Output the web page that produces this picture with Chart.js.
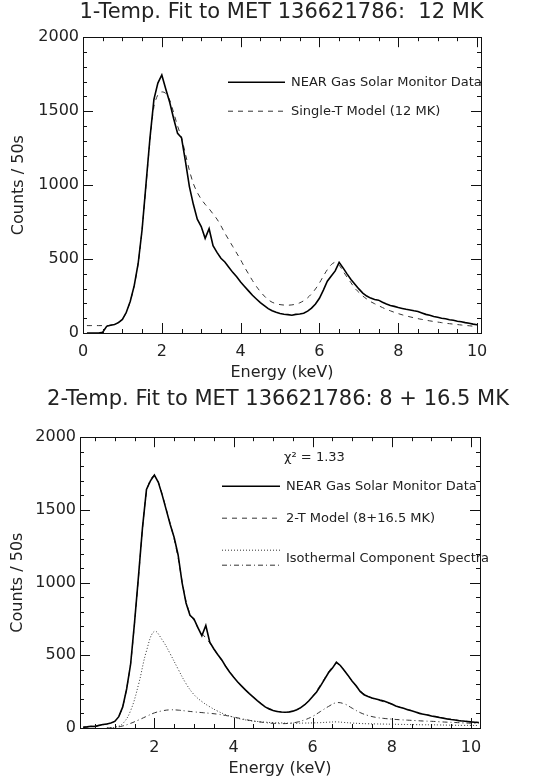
<!DOCTYPE html>
<html lang="en">
<head>
    <meta charset="UTF-8">
    <title>NEAR solar monitor spectrum fits</title>
    <script src="https://cdn.jsdelivr.net/npm/chart.js"></script>
    <style>
        body {
            margin: 0;
            background: #fff;
        }

        .panel {
            position: absolute;
            left: 0;
        }
    </style>
</head>
<body>
    <canvas id="topChart" class="panel" style="top:0" width="547" height="385"></canvas>
    <canvas id="bottomChart" class="panel" style="top:385px" width="547" height="393"></canvas>

    <script>
        // ---- data (keV, counts / 50 s) ----
        const energyTop = [
            0.1, 0.2, 0.3, 0.4, 0.5, 0.6, 0.7, 0.8, 0.9, 1.0,
            1.1, 1.2, 1.3, 1.4, 1.5, 1.6, 1.7, 1.8, 1.9, 2.0,
            2.1, 2.2, 2.3, 2.4, 2.5, 2.6, 2.7, 2.8, 2.9, 3.0,
            3.1, 3.2, 3.3, 3.4, 3.5, 3.6, 3.7, 3.8, 3.9, 4.0,
            4.1, 4.2, 4.3, 4.4, 4.5, 4.6, 4.7, 4.8, 4.9, 5.0,
            5.1, 5.2, 5.3, 5.4, 5.5, 5.6, 5.7, 5.8, 5.9, 6.0,
            6.1, 6.2, 6.3, 6.4, 6.5, 6.6, 6.7, 6.8, 6.9, 7.0,
            7.1, 7.2, 7.3, 7.4, 7.5, 7.6, 7.7, 7.8, 7.9, 8.0,
            8.1, 8.2, 8.3, 8.4, 8.5, 8.6, 8.7, 8.8, 8.9, 9.0,
            9.1, 9.2, 9.3, 9.4, 9.5, 9.6, 9.7, 9.8, 9.9, 10.0
        ];
        const dataTop = [
            0, 0, 0, 0, 5, 45, 52, 58, 70, 92,
            140, 215, 320, 470, 700, 1010, 1320, 1580, 1690, 1745,
            1650, 1560, 1450, 1350, 1320, 1160, 990, 870, 770, 720,
            640, 705, 590, 545, 505, 480, 445, 410, 380, 345,
            315, 285, 255, 230, 205, 185, 165, 150, 140, 132,
            127, 124, 120, 126, 129, 134, 148, 168, 196, 235,
            290, 350, 385, 420, 478, 440, 400, 362, 330, 298,
            270, 250, 236, 226, 222, 208, 196, 186, 180, 172,
            166, 160, 156, 150, 146, 136, 126, 120, 112, 106,
            100, 96, 90, 86, 80, 76, 70, 66, 60, 56
        ];
        const modelTop = [
            50, 50, 50, 50, 50, 50, 53, 60, 72, 94,
            140, 215, 320, 470, 700, 1000, 1300, 1530, 1610, 1630,
            1620, 1575, 1490, 1400, 1320, 1210, 1100, 1010, 950, 905,
            870, 840, 805, 770, 725, 675, 630, 585, 540, 495,
            445, 400, 355, 315, 280, 250, 225, 208, 198, 192,
            189, 188, 190, 195, 204, 218, 238, 265, 298, 338,
            385, 428, 462, 478, 458, 418, 378, 340, 302, 275,
            250, 230, 212, 198, 185, 172, 160, 150, 140, 131,
            123, 116, 109, 103, 97, 92, 87, 82, 78, 74,
            70, 66, 63, 60, 57, 54, 51, 49, 46, 44
        ];

        const energyBottom = [
            0.2, 0.3, 0.4, 0.5, 0.6, 0.7, 0.8, 0.9, 1.0,
            1.1, 1.2, 1.3, 1.4, 1.5, 1.6, 1.7, 1.8, 1.9, 2.0,
            2.1, 2.2, 2.3, 2.4, 2.5, 2.6, 2.7, 2.8, 2.9, 3.0,
            3.1, 3.2, 3.3, 3.4, 3.5, 3.6, 3.7, 3.8, 3.9, 4.0,
            4.1, 4.2, 4.3, 4.4, 4.5, 4.6, 4.7, 4.8, 4.9, 5.0,
            5.1, 5.2, 5.3, 5.4, 5.5, 5.6, 5.7, 5.8, 5.9, 6.0,
            6.1, 6.2, 6.3, 6.4, 6.5, 6.6, 6.7, 6.8, 6.9, 7.0,
            7.1, 7.2, 7.3, 7.4, 7.5, 7.6, 7.7, 7.8, 7.9, 8.0,
            8.1, 8.2, 8.3, 8.4, 8.5, 8.6, 8.7, 8.8, 8.9, 9.0,
            9.1, 9.2, 9.3, 9.4, 9.5, 9.6, 9.7, 9.8, 9.9, 10.0,
            10.1, 10.2
        ];
        const dataBottom = [
            5, 8, 12, 10, 18, 24, 28, 34, 45,
            78, 145, 270, 440, 730, 1050, 1380, 1640, 1700, 1740,
            1690, 1600, 1500, 1400, 1310, 1190, 1000, 860, 775, 750,
            690, 635, 705, 590, 545, 505, 470, 425, 385, 350,
            318, 290, 262, 236, 212, 188, 166, 145, 130, 120,
            114, 110, 108, 110, 116, 126, 140, 160, 186, 216,
            248, 290, 335, 380, 412, 452, 430, 396, 360, 322,
            290, 252, 228, 216, 206, 200, 192, 186, 176, 165,
            152, 142, 136, 126, 118, 110, 100, 95, 90, 82,
            78, 72, 68, 62, 58, 55, 50, 48, 45, 42,
            40, 38
        ];
        const model2T = [
            6, 8, 10, 12, 16, 22, 28, 35, 48,
            80, 148, 272, 445, 725, 1040, 1370, 1620, 1710, 1735,
            1690, 1605, 1505, 1405, 1300, 1170, 1010, 870, 785, 740,
            690, 650, 620, 585, 545, 505, 465, 425, 387, 352,
            320, 290, 262, 236, 212, 190, 168, 150, 135, 124,
            116, 111, 109, 110, 115, 125, 140, 160, 186, 218,
            255, 298, 340, 385, 420, 445, 428, 395, 358, 320,
            286, 256, 234, 218, 206, 196, 188, 180, 172, 163,
            153, 144, 136, 128, 120, 112, 104, 97, 91, 85,
            79, 74, 69, 64, 60, 56, 52, 49, 46, 43,
            40, 38
        ];

        const energyComp = [
            0.8, 1.0, 1.2, 1.4, 1.6, 1.8, 2.0, 2.2, 2.4, 2.6,
            2.8, 3.0, 3.2, 3.4, 3.6, 3.8, 4.0, 4.2, 4.4, 4.6,
            4.8, 5.0, 5.2, 5.4, 5.6, 5.8, 6.0, 6.2, 6.4, 6.6,
            6.8, 7.0, 7.2, 7.4, 7.6, 7.8, 8.0, 8.2, 8.4, 8.6,
            8.8, 9.0, 9.2, 9.4, 9.6, 9.8, 10.0, 10.2
        ];
        const comp8MK = [
            0, 5, 30, 120, 300, 530, 665, 605, 510, 405,
            305, 230, 182, 146, 116, 92, 74, 61, 51, 45,
            40, 37, 35, 33, 33, 34, 35, 37, 40, 42,
            38, 34, 31, 29, 28, 27, 26, 25, 24, 23,
            22, 22, 21, 20, 19, 18, 18, 17
        ];
        const comp16MK = [
            0, 4, 14, 32, 55, 80, 104, 118, 125, 123,
            117, 111, 106, 101, 95, 86, 76, 64, 53, 44,
            37, 32, 30, 32, 40, 56, 80, 114, 148, 174,
            166, 136, 106, 86, 73, 66, 61, 57, 54, 51,
            48, 46, 43, 40, 38, 35, 33, 31
        ];

        const countTicks = [0, 500, 1000, 1500, 2000];

        const pairs = (xs, ys) => xs.map((x, i) => ({ x: x, y: ys[i] }));

        Chart.defaults.font.family = "'DejaVu Sans', 'Liberation Sans', sans-serif";
        Chart.defaults.color = '#222';

        // IDL-style ticks pointing into the plot on all four sides
        const innerTicks = {
            id: 'innerTicks',
            afterDraw(chart, args, opts) {
                const { ctx, chartArea: a } = chart;
                const { x, y } = chart.scales;
                ctx.save();
                ctx.strokeStyle = '#111';
                ctx.lineWidth = 1;
                ctx.setLineDash([]);
                ctx.beginPath();
                const mark = (scale, step, len) => {
                    const first = Math.ceil(scale.min / step - 1e-6);
                    const last = Math.floor(scale.max / step + 1e-6);
                    for (let k = first; k <= last; k++) {
                        const p = Math.round(scale.getPixelForValue(k * step)) + 0.5;
                        if (scale.isHorizontal()) {
                            ctx.moveTo(p, a.bottom); ctx.lineTo(p, a.bottom - len);
                            ctx.moveTo(p, a.top); ctx.lineTo(p, a.top + len);
                        } else {
                            ctx.moveTo(a.left, p); ctx.lineTo(a.left + len, p);
                            ctx.moveTo(a.right, p); ctx.lineTo(a.right - len, p);
                        }
                    }
                };
                mark(x, opts.xMinor, 4);
                mark(x, opts.xMajor, 10);
                mark(y, opts.yMinor, 4);
                mark(y, opts.yMajor, 10);
                ctx.stroke();
                ctx.restore();
            }
        };

        // legend drawn inside the plot, samples use the dataset line styles
        const innerLegend = {
            id: 'innerLegend',
            afterDraw(chart, args, opts) {
                const { ctx, chartArea: a } = chart;
                ctx.save();
                ctx.font = opts.font;
                ctx.fillStyle = '#222';
                ctx.textBaseline = 'middle';
                opts.rows.forEach(r => {
                    (r.samples || []).forEach(s => {
                        const ds = chart.data.datasets[s.ds];
                        ctx.beginPath();
                        ctx.setLineDash(ds.borderDash || []);
                        ctx.lineWidth = ds.borderWidth;
                        ctx.strokeStyle = ds.borderColor;
                        ctx.moveTo(a.left + opts.x0, a.top + s.dy);
                        ctx.lineTo(a.left + opts.x1, a.top + s.dy);
                        ctx.stroke();
                    });
                    if (r.text) {
                        ctx.setLineDash([]);
                        ctx.fillText(r.text, a.left + (r.tx !== undefined ? r.tx : opts.tx), a.top + r.dy);
                    }
                });
                ctx.restore();
            }
        };

        function makeOptions(cfg) {
            const hidden = { display: false };
            return {
                responsive: false,
                devicePixelRatio: 1,
                animation: false,
                layout: { padding: { left: cfg.padLeft, right: 0, top: 0, bottom: 0 } },
                elements: { point: { radius: 0 } },
                plugins: {
                    legend: hidden,
                    tooltip: { enabled: false },
                    title: {
                        display: true,
                        text: cfg.title,
                        font: { size: 21, weight: 'normal' },
                        padding: { top: cfg.titleTop, bottom: cfg.titleBottom }
                    },
                    innerTicks: { xMajor: 2, xMinor: 0.5, yMajor: 500, yMinor: 100 },
                    innerLegend: cfg.legend
                },
                scales: {
                    x: {
                        type: 'linear',
                        position: 'bottom',
                        min: cfg.xMin,
                        max: cfg.xMax,
                        grid: { display: false, drawTicks: false },
                        border: { display: true, color: '#111', width: 1 },
                        ticks: {
                            stepSize: 2, includeBounds: false, padding: cfg.xTickPad,
                            font: { size: 16 }, callback: v => String(v)
                        },
                        title: { display: true, text: 'Energy (keV)', font: { size: 16 }, padding: { top: 0, bottom: cfg.xTitlePad } },
                        afterFit: s => { s.height = cfg.xHeight; }
                    },
                    x2: {
                        type: 'linear',
                        position: 'top',
                        min: cfg.xMin,
                        max: cfg.xMax,
                        grid: { display: false, drawTicks: false },
                        border: { display: true, color: '#111', width: 1 },
                        ticks: hidden,
                        afterFit: s => { s.height = 0; }
                    },
                    y: {
                        position: 'left',
                        min: 0,
                        max: 2000,
                        grid: { display: false, drawTicks: false },
                        border: { display: true, color: '#111', width: 1 },
                        afterBuildTicks: s => { s.ticks = countTicks.map(v => ({ value: v })); },
                        ticks: { padding: 4, font: { size: 16 }, callback: v => String(v) },
                        title: { display: true, text: 'Counts / 50s', font: { size: 16 }, padding: { top: cfg.yTitlePad, bottom: 0 } },
                        afterFit: s => { s.width = cfg.yWidth; }
                    },
                    y2: {
                        position: 'right',
                        min: 0,
                        max: 2000,
                        grid: { display: false, drawTicks: false },
                        border: { display: true, color: '#111', width: 1 },
                        ticks: hidden,
                        afterFit: s => { s.width = cfg.y2Width; }
                    }
                }
            };
        }

        new Chart(document.getElementById('topChart'), {
            type: 'line',
            data: {
                datasets: [{
                    label: 'NEAR Gas Solar Monitor Data',
                    data: pairs(energyTop, dataTop),
                    borderColor: '#000',
                    borderWidth: 1.6
                }, {
                    label: 'Single-T Model (12 MK)',
                    data: pairs(energyTop, modelTop),
                    borderColor: '#333',
                    borderWidth: 1,
                    borderDash: [5, 5],
                    tension: 0.3
                }]
            },
            options: makeOptions({
                title: '1-Temp. Fit to MET 136621786:  12 MK',
                padLeft: 16, titleTop: 0, titleBottom: 12,
                xMin: 0, xMax: 10.1, xHeight: 52, xTickPad: 9, xTitlePad: 3,
                yWidth: 67, y2Width: 66, yTitlePad: -7,
                legend: {
                    font: "13px 'DejaVu Sans', sans-serif",
                    x0: 145, x1: 202, tx: 208,
                    rows: [
                        { dy: 45, text: 'NEAR Gas Solar Monitor Data', samples: [{ ds: 0, dy: 45 }] },
                        { dy: 74, text: 'Single-T Model (12 MK)', samples: [{ ds: 1, dy: 74 }] }
                    ]
                }
            }),
            plugins: [innerTicks, innerLegend]
        });

        new Chart(document.getElementById('bottomChart'), {
            type: 'line',
            data: {
                datasets: [{
                    label: 'NEAR Gas Solar Monitor Data',
                    data: pairs(energyBottom, dataBottom),
                    borderColor: '#000',
                    borderWidth: 1.6
                }, {
                    label: '2-T Model (8+16.5 MK)',
                    data: pairs(energyBottom, model2T),
                    borderColor: '#333',
                    borderWidth: 1,
                    borderDash: [5, 5],
                    tension: 0.3
                }, {
                    label: '8 MK component',
                    data: pairs(energyComp, comp8MK),
                    borderColor: '#333',
                    borderWidth: 1,
                    borderDash: [1, 2],
                    tension: 0.4
                }, {
                    label: '16.5 MK component',
                    data: pairs(energyComp, comp16MK),
                    borderColor: '#333',
                    borderWidth: 1,
                    borderDash: [5, 3, 1, 3],
                    tension: 0.4
                }]
            },
            options: makeOptions({
                title: '2-Temp. Fit to MET 136621786: 8 + 16.5 MK',
                padLeft: 9, titleTop: 2, titleBottom: 25,
                xMin: 0.12, xMax: 10.23, xHeight: 50, xTickPad: 10, xTitlePad: 0,
                yWidth: 71, y2Width: 67, yTitlePad: -1,
                legend: {
                    font: "13px 'DejaVu Sans', sans-serif",
                    x0: 142, x1: 200, tx: 206,
                    rows: [
                        { dy: 20, text: 'χ² = 1.33', tx: 204 },
                        { dy: 49, text: 'NEAR Gas Solar Monitor Data', samples: [{ ds: 0, dy: 49 }] },
                        { dy: 81, text: '2-T Model (8+16.5 MK)', samples: [{ ds: 1, dy: 81 }] },
                        { dy: 121, text: 'Isothermal Component Spectra', samples: [{ ds: 2, dy: 113 }, { ds: 3, dy: 128 }] }
                    ]
                }
            }),
            plugins: [innerTicks, innerLegend]
        });
    </script>
</body>
</html>
